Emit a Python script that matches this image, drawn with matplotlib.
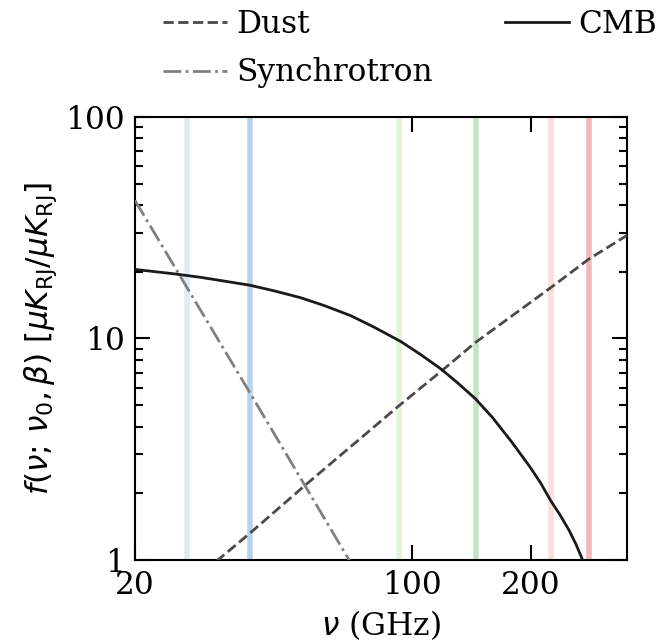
import matplotlib
matplotlib.use("Agg")
import matplotlib.pyplot as plt
from matplotlib.ticker import NullLocator, FixedLocator, FixedFormatter

plt.rcParams['font.family'] = 'DejaVu Serif'
plt.rcParams['mathtext.fontset'] = 'dejavusans'
plt.rcParams['font.size'] = 22.5

# Frequency bands (GHz) and their colours
band_freqs = [27, 39, 93, 145, 225, 280]
band_colors = ['#deebf5', '#b8d2e8', '#e6f3dc', '#c4e3c1', '#fcdcdc', '#f5b8b8']

# Curves
cmb_nu = [20, 25, 29.2, 34, 39, 45, 52.3, 60, 70, 80, 93.8, 105, 118.4, 131, 145,
          160, 177.9, 190, 200, 212, 224.7, 237, 250, 260, 270.4, 290]
cmb_f = [20.5, 19.6, 18.9, 18.1, 17.4, 16.4, 15.3, 14.1, 12.7, 11.3, 9.7, 8.5, 7.3, 6.28, 5.34,
         4.4, 3.46, 2.95, 2.6, 2.22, 1.85, 1.6, 1.36, 1.18, 1.0, 0.7]

dust_nu = [30, 32.4, 39, 53.9, 93, 119.7, 145, 225, 280, 350]
dust_f = [0.9, 1.0, 1.32, 2.18, 4.98, 7.2, 9.6, 17.0, 22.8, 29.2]

sync_nu = [20, 27, 39, 53.9, 69.5, 80]
sync_f = [42, 17.1, 5.7, 2.15, 1.0, 0.65]

fig = plt.figure(figsize=(6.68, 6.42), dpi=100)
ax = fig.add_axes([0.2021, 0.1277, 0.7365, 0.6901])

for nu, c in zip(band_freqs, band_colors):
    ax.axvline(nu, color=c, lw=4, zorder=1)

ax.plot(dust_nu, dust_f, ls='--', color='#4a4a4a', lw=2, label='Dust', zorder=3)
ax.plot(sync_nu, sync_f, ls='-.', color='#808080', lw=2, label='Synchrotron', zorder=3)
ax.plot(cmb_nu, cmb_f, ls='-', color='#1a1a1a', lw=2, label='CMB', zorder=3)

ax.set_xscale('log')
ax.set_yscale('log')
ax.set_xlim(20, 350)
ax.set_ylim(1, 100)

ax.xaxis.set_major_locator(FixedLocator([20, 100, 200]))
ax.xaxis.set_major_formatter(FixedFormatter(['20', '100', '200']))
ax.xaxis.set_minor_locator(NullLocator())
ax.set_yticks([1, 10, 100])
ax.set_yticklabels(['1', '10', '100'])

ax.tick_params(which='both', direction='in', top=True, right=True, width=1.5)
ax.tick_params(which='major', length=11, pad=7)
ax.tick_params(which='minor', length=6)
for s in ax.spines.values():
    s.set_linewidth(1.5)

ax.set_xlabel(r'$\nu$ (GHz)', labelpad=5)
ax.set_ylabel(r'$f(\nu;\,\nu_0,\beta)\ [\mu K_{\rm RJ}/\mu K_{\rm RJ}]$', labelpad=5)

fig.legend(loc='upper center', bbox_to_anchor=(410 / 668, 1.005), ncol=2,
           frameon=False, handlelength=2.05, handletextpad=0.3,
           columnspacing=2.3, labelspacing=0.55, borderaxespad=0.0)

fig.savefig('out.png', dpi=100)
